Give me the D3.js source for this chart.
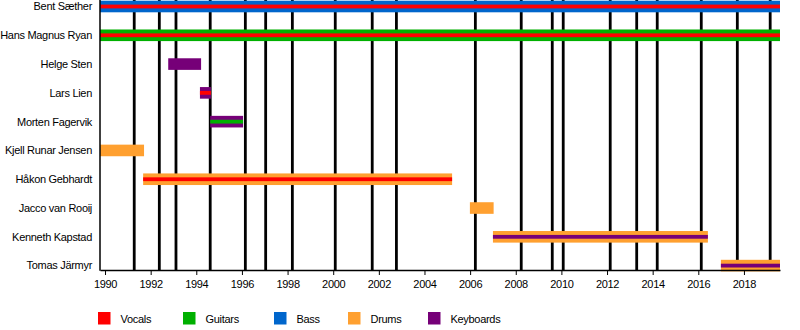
<!DOCTYPE html>
<html><head><meta charset="utf-8">
<script src="https://cdn.jsdelivr.net/npm/d3@7"></script>
<style>body{margin:0;background:#fff}svg{display:block}text{font-family:"Liberation Sans",Arial,sans-serif}</style>
</head><body><svg id="c" width="800" height="330"></svg>
<script>
const members = ["Bent Sæther","Hans Magnus Ryan","Helge Sten","Lars Lien","Morten Fagervik","Kjell Runar Jensen","Håkon Gebhardt","Jacco van Rooij","Kenneth Kapstad","Tomas Järmyr"];
const startYear = [1989.78,1989.78,1992.77,1994.16,1994.61,1989.78,1991.67,2005.99,2007.0,2016.99];
const endYear   = [2019.58,2019.58,1994.21,1994.64,1996.05,1991.71,2005.21,2007.03,2016.42,2019.58];
const mainRole  = ["Bass","Guitars","Keyboards","Keyboards","Keyboards","Drums","Drums","Drums","Drums","Drums"];
const extraRole = ["Vocals","Vocals",null,"Vocals","Guitars",null,"Vocals",null,"Keyboards","Keyboards"];
const albums = [1991.28,1992.38,1993.11,1994.61,1996.15,1997.04,1998.21,2000.09,2001.71,2002.77,2006.23,2008.24,2009.60,2010.08,2012.14,2013.30,2014.20,2016.13,2017.71,2019.15];
const tickYears = [1990,1992,1994,1996,1998,2000,2002,2004,2006,2008,2010,2012,2014,2016,2018];
const roles = ["Vocals","Guitars","Bass","Drums","Keyboards"];
const roleColors = ["#ff0000","#00b000","#0066cc","#ffa030","#760078"];
const period = [1989.78,2019.58];

const svg = d3.select("#c");
const color = d3.scaleOrdinal().domain(roles).range(roleColors);
const x = d3.scaleLinear().domain(period).range([100,780]);
const y = d3.scaleBand().domain(members).range([-7.9,280]).paddingInner(0).paddingOuter(0);
const cy = m => y(m) + y.bandwidth()/2;
const axisY = 270;

// album release lines
svg.append("g").selectAll("line").data(albums).join("line")
  .attr("x1",d=>x(d)).attr("x2",d=>x(d)).attr("y1",0).attr("y2",axisY)
  .attr("stroke","#000").attr("stroke-width",2.8);

// bars
const rows = members.map((m,i)=>({m,s:startYear[i],e:endYear[i],r:mainRole[i],r2:extraRole[i]}));
const g = svg.append("g");
g.selectAll("rect.main").data(rows).join("rect").attr("class","main")
  .attr("x",d=>x(d.s)).attr("width",d=>x(d.e)-x(d.s))
  .attr("y",d=>cy(d.m)-5.8).attr("height",11.6).attr("fill",d=>color(d.r));
g.selectAll("rect.extra").data(rows.filter(d=>d.r2)).join("rect").attr("class","extra")
  .attr("x",d=>x(d.s)).attr("width",d=>x(d.e)-x(d.s))
  .attr("y",d=>cy(d.m)-1.9).attr("height",3.8).attr("fill",d=>color(d.r2));

// member labels
svg.append("g").selectAll("text").data(members).join("text")
  .attr("x",92).attr("y",d=>cy(d)).attr("dy","0.35em").attr("text-anchor","end")
  .attr("font-size",11).attr("fill","#000").attr("letter-spacing",-0.3).text(d=>d);

// axes
const xAxis = d3.axisBottom(x).tickValues(tickYears).tickFormat(d3.format("d")).tickSize(5).tickSizeOuter(0);
const ax = svg.append("g").attr("transform",`translate(0,${axisY})`).call(xAxis);
ax.select(".domain").attr("stroke","#000").attr("stroke-width",1.5);
ax.selectAll(".tick line").attr("stroke","#000");
ax.selectAll(".tick text").attr("font-size",11).attr("font-family","Liberation Sans, Arial, sans-serif").attr("fill","#000").attr("dy","0.9em").attr("letter-spacing",-0.3);
svg.append("line").attr("x1",100).attr("x2",100).attr("y1",0).attr("y2",axisY+0.75).attr("stroke","#000").attr("stroke-width",1.5);

// legend
const legendX = [98,183,274,348,428];
const lg = svg.append("g").selectAll("g").data(roles).join("g")
  .attr("transform",(d,i)=>`translate(${legendX[i]},312)`);
lg.append("rect").attr("width",12.5).attr("height",12.5).attr("fill",d=>color(d));
lg.append("text").attr("x",22.5).attr("y",7.5).attr("dy","0.35em").attr("font-size",11).attr("letter-spacing",-0.3).text(d=>d);
</script></body></html>
